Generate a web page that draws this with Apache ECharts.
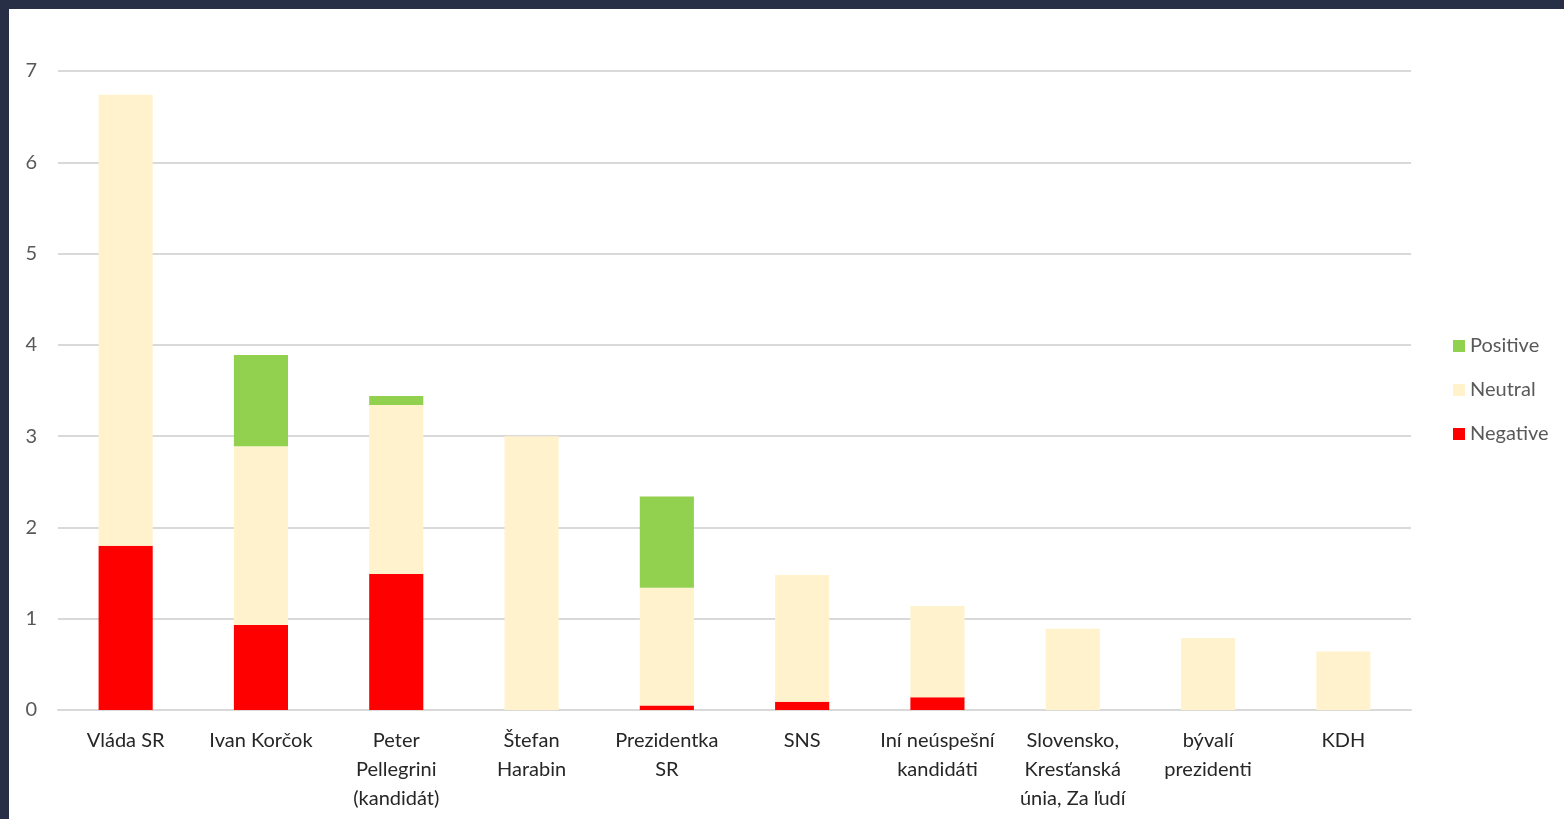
<!DOCTYPE html>
<html>
<head>
<meta charset="utf-8">
<script src="https://cdn.jsdelivr.net/npm/echarts@6/dist/echarts.min.js"></script>
<style>
html,body{margin:0;padding:0;background:#262f45;width:1564px;height:819px;overflow:hidden;}
#panel{position:absolute;left:9px;top:9px;width:1555px;height:810px;background:#ffffff;}
#chart{width:1555px;height:810px;}
</style>
</head>
<body>
<div id="panel"><div id="chart"></div></div>
<script>
const categories = ["Vláda SR","Ivan Korčok","Peter\nPellegrini\n(kandidát)","Štefan\nHarabin","Prezidentka\nSR","SNS","Iní neúspešní\nkandidáti","Slovensko,\nKresťanská\núnia, Za ľudí","bývalí\nprezidenti","KDH"];
const negative = [1.80, 0.93, 1.49, 0, 0.05, 0.09, 0.14, 0, 0, 0];
const neutral  = [4.94, 1.96, 1.85, 3.00, 1.29, 1.39, 1.00, 0.89, 0.79, 0.64];
const positive = [0, 1.00, 0.10, 0, 1.00, 0, 0, 0, 0, 0];
const yTicks = [0,1,2,3,4,5,6,7];

const chart = echarts.init(document.getElementById('chart'));
const font = 'Lato, "Open Sans", sans-serif';
chart.setOption({
  animation:false,
  backgroundColor:'#ffffff',
  grid:{left:49,right:153,top:62,bottom:109,containLabel:false},
  legend:{
    orient:'vertical',left:1439,top:322,
    itemWidth:12,itemHeight:12,itemGap:24,
    icon:'rect',
    data:['Positive','Neutral','Negative'],
    textStyle:{fontFamily:font,fontSize:20,color:'#595959',lineHeight:20}
  },
  xAxis:{
    type:'category',data:categories,
    axisLine:{lineStyle:{color:'#d9d9d9',width:2}},
    axisTick:{show:false},
    axisLabel:{interval:0,fontFamily:font,fontSize:20,color:'#262626',lineHeight:29,margin:16}
  },
  yAxis:{
    type:'value',min:yTicks[0],max:yTicks[yTicks.length-1],interval:1,
    axisLine:{show:false},axisTick:{show:false},
    splitLine:{lineStyle:{color:'#d9d9d9',width:2}},
    axisLabel:{fontFamily:font,fontSize:20,color:'#595959',margin:21}
  },
  series:[
    {name:'Negative',type:'bar',stack:'s',data:negative,barWidth:'40%',itemStyle:{color:'#ff0000'}},
    {name:'Neutral',type:'bar',stack:'s',data:neutral,barWidth:'40%',itemStyle:{color:'#fff2cc'}},
    {name:'Positive',type:'bar',stack:'s',data:positive,barWidth:'40%',itemStyle:{color:'#92d050'}}
  ]
});
</script>
</body>
</html>
